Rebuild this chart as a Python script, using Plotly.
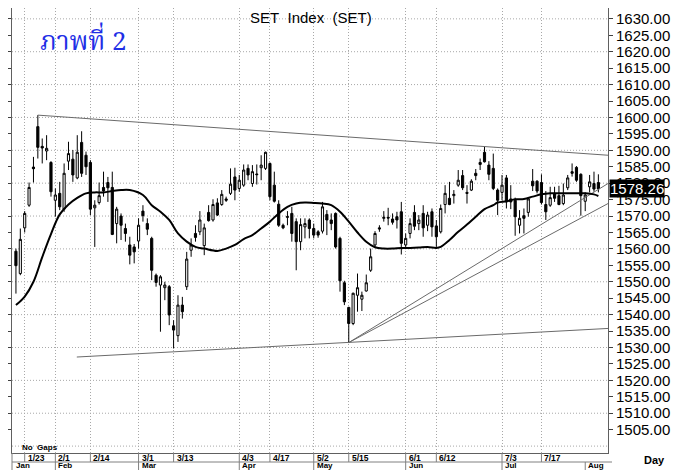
import pandas as pd
import plotly.graph_objects as go

# trading calendar (SET, 2017) -- Jan 19 .. Aug 4
holidays = ["2017-02-13", "2017-04-06", "2017-04-13", "2017-04-14",
            "2017-05-01", "2017-05-10", "2017-07-10", "2017-07-28"]
days = pd.bdate_range("2017-01-19", "2017-08-04")
days = days[~days.isin(pd.to_datetime(holidays))]
dates = [d.strftime("%Y-%m-%d") for d in days]

opens = [1559.3, 1552.5, 1566.4, 1573.3, 1584.9, 1597.2, 1591.2, 1589.8, 1586.3, 1574.8,
         1576.9, 1572.1, 1586.7, 1587.3, 1581.6, 1592.4, 1588.5, 1586.3, 1572.5, 1574.1,
         1578.7, 1580.2, 1578.7, 1567.7, 1570.0, 1566.2, 1561.2, 1560.6, 1562.4, 1571.5,
         1567.7, 1563.2, 1552.0, 1549.0, 1548.2, 1548.5, 1536.6, 1533.6, 1542.9, 1548.5,
         1559.6, 1564.7, 1565.2, 1561.0, 1571.1, 1568.8, 1574.0, 1573.5, 1575.2, 1576.9,
         1581.9, 1578.4, 1579.4, 1584.5, 1579.9, 1582.8, 1584.7, 1584.5, 1586.0, 1579.4,
         1573.6, 1567.2, 1569.6, 1570.8, 1568.3, 1562.2, 1566.7, 1568.8, 1566.2, 1565.2,
         1565.4, 1570.5, 1568.8, 1570.8, 1563.2, 1549.7, 1542.2, 1537.3, 1545.9, 1544.7,
         1547.2, 1553.5, 1561.2, 1566.4, 1569.3, 1569.6, 1569.1, 1569.8, 1571.3, 1561.2,
         1564.7, 1571.1, 1567.7, 1570.8, 1567.2, 1571.3, 1567.0, 1565.2, 1573.5, 1575.4,
         1576.2, 1579.4, 1582.3, 1577.2, 1577.9, 1583.0, 1586.3, 1589.4, 1585.5, 1584.5,
         1577.9, 1577.2, 1581.6, 1575.2, 1574.8, 1567.2, 1570.1, 1571.1, 1580.6, 1580.6,
         1580.2, 1573.5, 1573.3, 1576.9, 1576.2, 1573.8, 1578.6, 1583.5, 1584.8, 1582.7,
         1574.5, 1578.9, 1579.9, 1580.2]
highs = [1560.1, 1566.2, 1571.5, 1580.2, 1588.0, 1600.7, 1593.6, 1594.6, 1586.7, 1578.4,
         1580.4, 1586.0, 1592.6, 1590.1, 1594.6, 1595.8, 1589.6, 1587.0, 1574.8, 1580.2,
         1583.5, 1581.9, 1583.5, 1572.8, 1570.8, 1567.7, 1563.7, 1561.5, 1569.3, 1573.3,
         1569.3, 1563.7, 1552.5, 1552.0, 1550.0, 1549.0, 1538.3, 1545.9, 1545.4, 1559.1,
         1563.2, 1567.2, 1571.5, 1567.7, 1573.3, 1575.1, 1575.4, 1577.9, 1575.9, 1584.5,
         1584.7, 1582.5, 1585.7, 1585.7, 1585.5, 1585.7, 1588.5, 1589.6, 1586.3, 1583.5,
         1574.8, 1567.7, 1571.5, 1572.8, 1569.3, 1569.3, 1569.3, 1569.3, 1567.7, 1565.7,
         1574.3, 1571.8, 1570.8, 1571.1, 1563.7, 1550.3, 1542.4, 1546.7, 1552.5, 1547.0,
         1552.2, 1560.1, 1565.4, 1567.2, 1571.5, 1572.5, 1570.8, 1571.3, 1574.3, 1564.7,
         1569.3, 1573.3, 1570.3, 1573.3, 1571.3, 1572.3, 1568.8, 1573.5, 1579.4, 1580.4,
         1577.9, 1584.0, 1584.0, 1579.4, 1581.2, 1584.3, 1587.5, 1591.1, 1586.7, 1589.0,
         1578.4, 1582.5, 1582.5, 1579.4, 1575.6, 1571.8, 1572.3, 1575.4, 1584.3, 1580.9,
         1582.7, 1577.6, 1578.9, 1578.9, 1579.2, 1579.9, 1582.5, 1586.0, 1585.2, 1583.0,
         1577.2, 1582.5, 1583.5, 1582.7]
lows = [1546.4, 1552.0, 1565.0, 1572.8, 1580.2, 1587.5, 1586.0, 1587.0, 1575.9, 1569.8,
        1571.8, 1571.3, 1584.0, 1580.4, 1581.2, 1581.9, 1582.5, 1570.3, 1560.6, 1573.5,
        1575.9, 1574.3, 1564.2, 1561.7, 1562.7, 1562.2, 1555.3, 1555.6, 1560.1, 1568.3,
        1564.2, 1550.5, 1548.5, 1534.8, 1544.4, 1536.8, 1529.7, 1531.7, 1538.8, 1547.5,
        1557.6, 1562.2, 1564.2, 1558.1, 1568.3, 1568.3, 1570.0, 1573.1, 1574.3, 1576.4,
        1574.8, 1577.4, 1578.9, 1580.9, 1578.9, 1579.6, 1580.9, 1584.0, 1574.8, 1574.1,
        1566.7, 1566.0, 1567.2, 1562.2, 1553.5, 1559.6, 1563.2, 1563.2, 1563.2, 1563.4,
        1564.7, 1564.2, 1565.7, 1560.1, 1547.0, 1542.9, 1531.5, 1536.8, 1540.9, 1541.1,
        1547.0, 1553.0, 1560.6, 1565.2, 1568.3, 1567.2, 1567.4, 1566.2, 1558.3, 1560.3,
        1563.2, 1565.7, 1565.7, 1563.7, 1565.4, 1563.7, 1560.6, 1564.7, 1570.8, 1573.3,
        1573.8, 1578.9, 1577.9, 1573.8, 1577.6, 1580.9, 1584.0, 1586.3, 1580.9, 1577.9,
        1570.3, 1574.8, 1572.3, 1572.1, 1564.0, 1564.7, 1564.7, 1569.8, 1577.6, 1576.9,
        1573.5, 1568.8, 1572.8, 1574.3, 1573.3, 1573.3, 1577.9, 1582.0, 1580.4, 1570.1,
        1571.5, 1577.2, 1577.4, 1577.2]
closes = [1554.9, 1562.9, 1570.8, 1578.7, 1584.4, 1590.9, 1590.7, 1590.6, 1577.4, 1576.4,
          1572.8, 1583.0, 1589.0, 1582.5, 1589.4, 1583.0, 1585.0, 1572.1, 1573.3, 1576.2,
          1577.6, 1578.6, 1564.4, 1572.1, 1567.2, 1564.7, 1558.1, 1559.1, 1567.2, 1570.1,
          1566.0, 1553.5, 1549.8, 1551.5, 1549.0, 1539.9, 1535.3, 1542.9, 1540.9, 1556.9,
          1561.2, 1563.5, 1568.8, 1566.4, 1568.6, 1573.5, 1570.3, 1576.6, 1574.8, 1579.7,
          1577.9, 1580.9, 1584.0, 1582.5, 1583.5, 1582.6, 1585.5, 1589.4, 1575.9, 1574.5,
          1567.2, 1566.4, 1569.8, 1564.7, 1562.2, 1567.4, 1567.7, 1566.2, 1564.2, 1564.2,
          1572.8, 1568.8, 1567.7, 1560.6, 1550.3, 1543.9, 1537.3, 1546.5, 1548.2, 1545.9,
          1549.7, 1557.6, 1564.7, 1566.1, 1569.6, 1569.4, 1568.1, 1568.8, 1561.7, 1563.2,
          1567.7, 1566.9, 1568.8, 1566.4, 1570.3, 1566.7, 1563.7, 1572.3, 1576.9, 1573.5,
          1576.6, 1580.9, 1578.6, 1576.9, 1580.6, 1582.3, 1585.7, 1586.5, 1582.7, 1578.4,
          1574.8, 1579.4, 1574.3, 1574.3, 1569.8, 1569.3, 1569.3, 1575.2, 1579.2, 1577.6,
          1574.1, 1571.3, 1575.6, 1575.4, 1573.5, 1576.4, 1581.6, 1583.0, 1580.9, 1576.2,
          1576.4, 1580.4, 1578.2, 1578.26]

# moving average (bar number, value)
ma_bar = [0, 2, 4, 6, 8, 10, 12, 14, 16, 18, 20, 22, 24, 26, 29, 31, 33, 35, 37, 39,
          41, 43, 46, 48, 50, 52, 54, 56, 58, 60, 62, 64, 66, 68, 70, 72, 74, 76, 78, 80,
          82, 84, 86, 88, 90, 92, 94, 96, 97, 99, 101, 103, 105, 107, 109, 110, 112, 114,
          116, 118, 120, 122, 124, 126, 128, 130, 132, 133]
ma_val = [1542.9, 1545.5, 1550.0, 1557.5, 1564.5, 1570.5, 1573.5, 1575.5, 1576.9, 1577.2,
          1577.2, 1577.6, 1577.9, 1577.9, 1576.4, 1573.3, 1571.3, 1568.8, 1564.7, 1562.2,
          1560.6, 1560.1, 1559.4, 1560.1, 1561.2, 1563.0, 1564.2, 1566.2, 1568.3, 1570.8,
          1572.8, 1573.8, 1574.1, 1574.0, 1573.8, 1573.3, 1571.3, 1568.3, 1565.0, 1562.2,
          1560.5, 1560.1, 1560.1, 1560.3, 1560.3, 1560.4, 1560.6, 1560.3, 1560.6, 1562.7,
          1565.2, 1567.4, 1569.8, 1572.1, 1573.3, 1574.1, 1574.5, 1575.1, 1575.2, 1575.9,
          1576.6, 1576.9, 1576.9, 1576.9, 1576.9, 1576.9, 1576.6, 1576.1]

# hand-drawn trend lines: (bar0, price0, bar1, price1)
trend_lines = [
    (5, 1600.7, 135.2, 1588.5),
    (13.9, 1527.1, 135.2, 1535.8),
    (76, 1531.5, 135.2, 1579.9),
    (76, 1531.5, 135.2, 1573.8),
]

tick_dates = ["2017-01-23", "2017-02-01", "2017-02-14", "2017-03-01", "2017-03-13",
              "2017-04-03", "2017-04-17", "2017-05-02", "2017-05-15", "2017-06-01",
              "2017-06-12", "2017-07-03", "2017-07-17"]
price_ticks = list(range(1505, 1631, 5))

# the page body adds an 8px margin, so the figure is 8px smaller than the window
W, H = 685, 462
ML, MR, MT, MB = 4, 85, 0, 17
PW, PH = W - ML - MR, H - MT - MB
FONT = "Arial, Liberation Sans, sans-serif"

bars = list(range(len(dates)))
x_range = [-0.9, 135.2]
y_range = [1497.9, 1633.3]

fig = go.Figure()

fig.add_trace(go.Candlestick(
    x=bars, open=opens, high=highs, low=lows, close=closes,
    increasing=dict(line=dict(color="black", width=1), fillcolor="white"),
    decreasing=dict(line=dict(color="black", width=1), fillcolor="black"),
    whiskerwidth=0, showlegend=False, hoverinfo="skip",
))

for b0, p0, b1, p1 in trend_lines:
    fig.add_trace(go.Scatter(x=[b0, b1], y=[p0, p1], mode="lines",
                             line=dict(color="#6a6a6a", width=1),
                             showlegend=False, hoverinfo="skip"))

fig.add_trace(go.Scatter(x=ma_bar, y=ma_val, mode="lines",
                         line=dict(color="black", width=2, shape="spline"),
                         showlegend=False, hoverinfo="skip"))

tick_bars = [dates.index(d) for d in tick_dates]
tick_text = [f"{int(d[5:7])}/{int(d[8:10])}" for d in tick_dates]

# first bar of each month
month_bars, month_names = [x_range[0]], [pd.Timestamp(dates[0]).strftime("%b")]
for i in range(1, len(dates)):
    if dates[i][5:7] != dates[i - 1][5:7]:
        month_bars.append(i)
        month_names.append(pd.Timestamp(dates[i]).strftime("%b"))

GRID = dict(color="#a8a8a8", width=1, dash="1px,2px")

shapes = []
# horizontal dotted grid every 10 points
for p in range(1500, 1631, 10):
    shapes.append(dict(type="line", xref="paper", yref="y", x0=0, x1=1, y0=p, y1=p,
                       line=GRID, layer="below"))

row1 = -9 / PH
row2 = -17 / PH
# date strip below the plot
shapes.append(dict(type="line", xref="paper", yref="paper", x0=0, x1=1 + 4 / PW,
                   y0=row1, y1=row1, line=dict(color="#808080", width=1)))
shapes.append(dict(type="line", xref="paper", yref="paper", x0=0, x1=0,
                   y0=0, y1=row2, line=dict(color="#808080", width=1)))
for b in tick_bars:
    shapes.append(dict(type="line", xref="x", yref="paper", x0=b, x1=b,
                       y0=0, y1=row1, line=dict(color="#808080", width=1)))
for b in month_bars[1:]:
    shapes.append(dict(type="line", xref="x", yref="paper", x0=b, x1=b,
                       y0=row1, y1=row2, line=dict(color="#808080", width=1)))
# right border of the price scale
shapes.append(dict(type="line", xref="paper", yref="paper", x0=1 + 79 / PW, x1=1 + 79 / PW,
                   y0=row2, y1=1, line=dict(color="#808080", width=1)))

annotations = []
for b, t in zip(tick_bars, tick_text):
    annotations.append(dict(x=b, y=0, xref="x", yref="paper", text=f"<b>{t}</b>",
                            showarrow=False, xanchor="left", yanchor="top",
                            xshift=1, yshift=2, font=dict(family=FONT, size=8.5, color="black")))
for b, m in zip(month_bars, month_names):
    annotations.append(dict(x=b, y=row1, xref="x", yref="paper", text=f"<b>{m}</b>",
                            showarrow=False, xanchor="left", yanchor="top",
                            xshift=2 if b < 0 else 1, yshift=3,
                            font=dict(family=FONT, size=8, color="black")))

annotations += [
    dict(x=0.014, y=0, xref="paper", yref="paper", text="<b>No  Gaps</b>", showarrow=False,
         xanchor="left", yanchor="bottom", yshift=-1,
         font=dict(family=FONT, size=8, color="black")),
    dict(x=1 + 46 / PW, y=-7 / PH, xref="paper", yref="paper", text="<b>Day</b>",
         showarrow=False, xanchor="center", yanchor="middle",
         font=dict(family=FONT, size=11, color="black")),
    dict(x=0.502, y=1, xref="paper", yref="paper",
         text="SET\u00a0 Index\u00a0 (SET)", showarrow=False,
         xanchor="center", yanchor="top", yshift=1,
         font=dict(family=FONT, size=15, color="black")),
    dict(x=0.044, y=0.921, xref="paper", yref="paper", text="ภาพที่ 2",
         showarrow=False, xanchor="left", yanchor="middle",
         font=dict(family="Noto Serif Thai, Noto Sans Thai, Tlwg Typo, Garuda, serif",
                   size=26, color="#1f2fe6")),
    dict(x=1, y=closes[-1], xref="paper", yref="y", text=f"{closes[-1]:.2f}",
         showarrow=False, xanchor="left", yanchor="middle", xshift=1,
         bgcolor="black", borderpad=0,
         font=dict(family=FONT, size=15, color="white")),
]

fig.update_layout(
    width=W, height=H,
    margin=dict(l=ML, r=MR, t=MT, b=MB),
    paper_bgcolor="white", plot_bgcolor="white",
    showlegend=False,
    shapes=shapes, annotations=annotations,
    xaxis=dict(
        range=x_range, rangeslider=dict(visible=False),
        tickvals=tick_bars, showticklabels=False, ticks="",
        showgrid=True, gridcolor="#a8a8a8", griddash="1px,2px", gridwidth=1,
        zeroline=False, showline=True, linecolor="#606060", mirror=True,
    ),
    yaxis=dict(
        range=y_range, side="right", tickvals=price_ticks,
        tickformat=".2f", ticks="outside", ticklen=4, tickcolor="#404040",
        tickfont=dict(family=FONT, size=15, color="black"),
        showgrid=False, zeroline=False,
        showline=True, linecolor="#606060", mirror="ticks",
    ),
)

fig.write_html("out.html")
